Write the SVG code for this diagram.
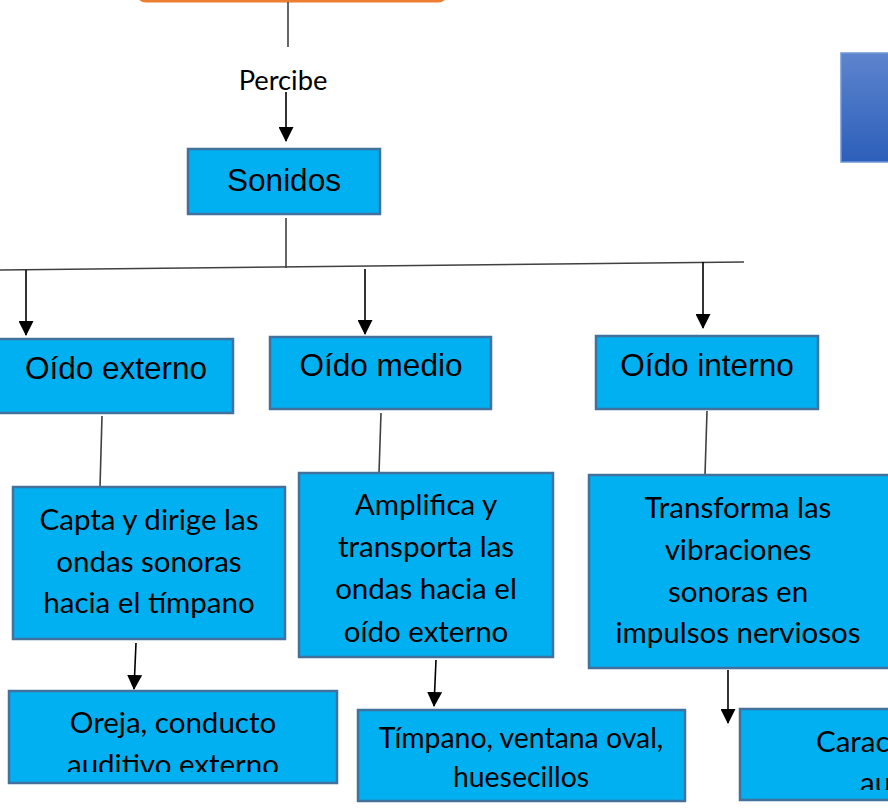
<svg xmlns="http://www.w3.org/2000/svg" width="888" height="808" viewBox="0 0 888 808">
<style>
.box{fill:#00B0F0;stroke:#41719C;stroke-width:2.5}
.ar{font-family:"Liberation Sans",Arial,sans-serif;font-size:31.5px;fill:#000;text-anchor:middle}
.ca{font-family:Lato,"Liberation Sans",sans-serif;font-size:29.5px;fill:#000;text-anchor:middle}
.sm{font-size:28.4px}
.lb{font-size:27.3px}
.ln{stroke:#404040;stroke-width:1.6;fill:none}
.arw{stroke:#000;stroke-width:1.6;fill:none;marker-end:url(#ah)}
</style>
<defs>
<marker id="ah" markerUnits="userSpaceOnUse" markerWidth="15" markerHeight="15" refX="14" refY="7.5" orient="auto" viewBox="0 0 15 15">
<path d="M0,0 L15,7.5 L0,15 z" fill="#000"/>
</marker>
<linearGradient id="bg" x1="0" y1="0" x2="0" y2="1">
<stop offset="0" stop-color="#5D84CE"/>
<stop offset="1" stop-color="#2C5FBA"/>
</linearGradient>
<clipPath id="c1"><rect x="0" y="690" width="340" height="82"/></clipPath>
<clipPath id="c2"><rect x="739" y="708" width="149" height="82"/></clipPath>
</defs>
<g id="top">
<rect x="137" y="-60" width="310" height="61" rx="9" fill="#fff" stroke="#ED7D31" stroke-width="3"/>
</g>
<g id="side">
<rect x="841" y="53" width="60" height="109" fill="url(#bg)" stroke="#7196D8" stroke-width="1.5"/>
</g>
<g id="connectors">
<line class="ln" x1="288" y1="2" x2="288" y2="47"/>
<text class="ca lb" x="283" y="90">Percibe</text>
<line class="arw" x1="286" y1="92" x2="286" y2="141"/>
<line class="ln" x1="286" y1="218" x2="286" y2="268"/>
<line class="ln" x1="0" y1="270" x2="744" y2="262"/>
<line class="arw" x1="26" y1="270" x2="26" y2="335"/>
<line class="arw" x1="365" y1="269" x2="365" y2="334"/>
<line class="arw" x1="703" y1="262" x2="703" y2="328"/>
<line class="ln" x1="102" y1="416" x2="100" y2="487"/>
<line class="ln" x1="381" y1="413" x2="379" y2="473"/>
<line class="ln" x1="707" y1="411" x2="705" y2="475"/>
<line class="arw" x1="136" y1="643" x2="134" y2="689"/>
<line class="arw" x1="436" y1="660" x2="434" y2="706"/>
<line class="arw" x1="728" y1="670" x2="728" y2="723"/>
</g>
<g id="sonidos">
<rect class="box" x="188" y="149" width="192" height="65"/>
<text class="ar" x="284" y="191">Sonidos</text>
</g>
<g id="oido-externo">
<rect class="box" x="-2" y="339" width="235" height="74"/>
<text class="ar" x="116" y="379">Oído externo</text>
</g>
<g id="oido-medio">
<rect class="box" x="270" y="337" width="221" height="72"/>
<text class="ar" x="381" y="376">Oído medio</text>
</g>
<g id="oido-interno">
<rect class="box" x="596" y="336" width="222" height="73"/>
<text class="ar" x="707" y="376">Oído interno</text>
</g>
<g id="capta">
<rect class="box" x="13" y="487" width="272" height="152"/>
<text class="ca" x="149" y="530">Capta y dirige las</text>
<text class="ca" x="149" y="572">ondas sonoras</text>
<text class="ca" x="149" y="613">hacia el tímpano</text>
</g>
<g id="amplifica">
<rect class="box" x="299" y="473" width="254" height="184"/>
<text class="ca" x="426" y="515">Amplifica y</text>
<text class="ca" x="426" y="557">transporta las</text>
<text class="ca" x="426" y="599">ondas hacia el</text>
<text class="ca" x="426" y="642">oído externo</text>
</g>
<g id="transforma">
<rect class="box" x="589" y="475" width="310" height="193"/>
<text class="ca" x="738" y="518">Transforma las</text>
<text class="ca" x="738" y="560">vibraciones</text>
<text class="ca" x="738" y="602">sonoras en</text>
<text class="ca" x="738" y="643">impulsos nerviosos</text>
</g>
<g id="oreja">
<rect class="box" x="9" y="691" width="328" height="92"/>
<g clip-path="url(#c1)">
<text class="ca" x="173" y="733">Oreja, conducto</text>
<text class="ca" x="173" y="775">auditivo externo</text>
</g>
</g>
<g id="timpano">
<rect class="box" x="358" y="710" width="327" height="91"/>
<text class="ca sm" x="521" y="748">Tímpano, ventana oval,</text>
<text class="ca sm" x="521" y="787">huesecillos</text>
</g>
<g id="carac">
<rect class="box" x="740" y="709" width="160" height="91"/>
<g clip-path="url(#c2)">
<text class="ca" x="816" y="752" style="text-anchor:start">Carac</text>
<text class="ca" x="860" y="793" style="text-anchor:start">au</text>
</g>
</g>
</svg>
